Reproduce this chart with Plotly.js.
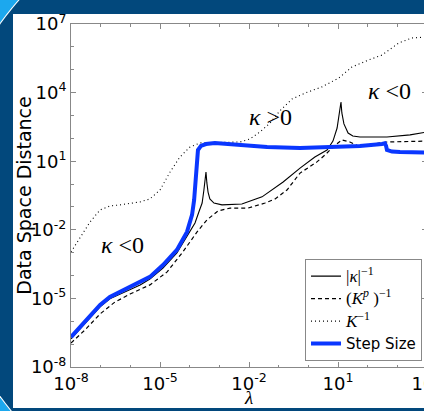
<!DOCTYPE html>
<html>
<head>
<meta charset="utf-8">
<script src="https://cdn.plot.ly/plotly-3.0.1.min.js"></script>
<style>
  html, body { margin:0; padding:0; width:424px; height:411px; overflow:hidden; background:#1ca8ee; position:relative; }
  #bgc { position:absolute; left:-60px; top:-107px; width:634px; height:634px; border-radius:50%; background:#02487c; box-shadow:0 0 0 1px #ffffff; }
  #panel { position:absolute; left:13px; top:14px; width:440px; height:394px; background:#fff; }
  #plot { position:absolute; left:13px; top:0px; width:440px; height:408px; }
</style>
</head>
<body>
<div id="bgc"></div>
<div id="panel"></div>
<div id="plot"></div>
<script>
// All values as log10 exponents (lambda, distance)
const solidLogX = [-8.00,-7.53,-7.02,-6.69,-6.35,-6.01,-5.67,-5.34,-4.90,-4.43,-4.09,-3.82,-3.69,-3.58,-3.52,-3.48,-3.45,-3.42,-3.38,-3.32,-3.18,-2.91,-2.24,-1.56,-1.12,-0.85,-0.28,0.22,0.63,0.83,0.97,1.03,1.10,1.13,1.20,1.34,1.50,1.74,2.65,3.43,4.00];
const solidLogY = [-6.77,-6.12,-5.37,-5.02,-4.81,-4.59,-4.41,-4.15,-3.67,-3.01,-2.27,-1.70,-1.22,-0.83,-0.26,0.18,0.53,0.05,-0.35,-0.65,-0.83,-0.91,-0.87,-0.56,-0.17,0.09,0.70,1.18,1.49,1.88,2.45,3.02,3.59,3.11,2.63,2.23,2.10,2.06,2.06,2.15,2.28];

const dashLogX = [-8.00,-7.53,-7.02,-6.52,-6.01,-5.34,-4.76,-4.23,-3.75,-3.42,-3.05,-2.64,-2.03,-1.46,-1.12,-0.72,-0.28,0.29,0.56,0.83,1.13,1.40,1.67,1.97,2.65,3.90,4.00];
const dashLogY = [-6.95,-6.38,-5.68,-5.16,-4.81,-4.41,-3.84,-2.97,-2.09,-1.57,-1.18,-1.05,-1.05,-0.83,-0.65,-0.26,0.48,0.97,1.27,1.62,1.93,1.84,1.67,1.71,1.84,1.88,1.88];

const dotLogX = [-8.00,-7.70,-7.36,-7.02,-6.69,-6.35,-5.67,-5.34,-5.00,-4.66,-4.33,-3.99,-3.65,-2.30,-1.97,-1.63,-1.29,-0.96,-0.55,-0.11,0.46,1.03,1.47,2.04,2.48,3.05,3.49,4.00];
const dotLogY = [-2.97,-2.36,-1.66,-1.13,-0.96,-0.91,-0.78,-0.65,-0.26,0.53,1.18,1.62,1.80,1.84,1.97,2.28,2.67,3.20,3.72,3.98,4.25,4.64,5.12,5.43,5.64,6.17,6.39,6.43];

const stepLogX = [-8.00,-7.53,-7.02,-6.69,-6.35,-6.01,-5.67,-5.34,-4.90,-4.43,-4.09,-3.92,-3.85,-3.82,-3.79,-3.75,-3.72,-3.62,-3.45,-3.15,-2.30,-1.39,-0.28,0.83,1.74,2.48,2.58,2.62,2.65,2.82,3.09,4.00];
const stepLogY = [-6.69,-6.03,-5.29,-4.94,-4.72,-4.50,-4.32,-4.06,-3.54,-2.88,-2.09,-1.35,-0.70,-0.04,0.62,1.14,1.49,1.67,1.75,1.80,1.71,1.62,1.58,1.62,1.67,1.75,1.78,1.67,1.49,1.42,1.40,1.38];

const seriesNames = [
  '|<i>κ</i>|<sup>−1</sup>',
  '(<i>K</i><sup><i>p</i></sup> )<sup>−1</sup>',
  '<i>K</i><sup>−1</sup>',
  'Step Size'
];
const regionLabels = ['<i>κ</i> &lt;0', '<i>κ</i> &gt;0', '<i>κ</i> &lt;0'];
const regionLabelLogX = [-6.28, -1.29, 2.72];
const regionLabelLogY = [-2.66, 2.93, 4.08];

const xTickExp = [-8, -5, -2, 1, 4];
const yTickExp = [-8, -5, -2, 1, 4, 7];
const xTickText = ['10<sup>-8</sup>', '10<sup>-5</sup>', '10<sup>-2</sup>', '10<sup>1</sup>', '10<sup>4</sup>'];
const yTickText = ['10<sup>-8</sup>', '10<sup>-5</sup>', '10<sup>-2</sup>', '10<sup>1</sup>', '10<sup>4</sup>', '10<sup>7</sup>'];

const pow10 = a => a.map(v => Math.pow(10, v));
const serif = 'Liberation Serif, DejaVu Serif, serif';
const sans = 'DejaVu Sans, sans-serif';
const legendName = (n, i) => i < 3 ? '<span style="font-family:' + serif + ';font-size:17px">' + n + '</span>' : n;

const traces = [
  {x: pow10(solidLogX), y: pow10(solidLogY), mode:'lines', name: legendName(seriesNames[0],0), line:{color:'#000', width:1.1}},
  {x: pow10(dashLogX), y: pow10(dashLogY), mode:'lines', name: legendName(seriesNames[1],1), line:{color:'#000', width:1.2, dash:'4px,3px'}},
  {x: pow10(dotLogX), y: pow10(dotLogY), mode:'lines', name: legendName(seriesNames[2],2), line:{color:'#000', width:1.1, dash:'1px,3px'}},
  {x: pow10(stepLogX), y: pow10(stepLogY), mode:'lines', name: seriesNames[3], line:{color:'#0a37ff', width:4}}
];

const axisCommon = {
  type:'log', showgrid:false, zeroline:false, showline:true, linecolor:'#888', linewidth:1, automargin:false,
  mirror:'ticks', ticks:'inside', ticklen:5, tickcolor:'#888', tickwidth:1, tickmode:'array',
  ticklabeloverflow:'allow',
  tickfont:{family:sans, size:18, color:'#000'},
  minor:{dtick:1, ticks:'inside', ticklen:2.5, tickcolor:'#888', tickwidth:1}
};

const layout = {
  width:440, height:408,
  margin:{l:58, r:26, t:24, b:41},
  paper_bgcolor:'rgba(0,0,0,0)', plot_bgcolor:'#fff',
  showlegend:true,
  xaxis: Object.assign({}, axisCommon, {
    range:[-8, 4], tickvals: pow10(xTickExp), ticktext: xTickText,
    title:{text:'<i>λ</i>', font:{family:serif, size:19, color:'#000'}, standoff:0}
  }),
  yaxis: Object.assign({}, axisCommon, {
    range:[-8, 7], tickvals: pow10(yTickExp), ticktext: yTickText,
    title:{text:'Data Space Distance', font:{family:sans, size:19, color:'#000'}, standoff:6}
  }),
  legend:{x:0.986, y:0.018, xanchor:'right', yanchor:'bottom', bgcolor:'#fff', bordercolor:'#888', borderwidth:1,
          font:{family:sans, size:15, color:'#000'}, itemwidth:30, tracegroupgap:0},
  annotations: regionLabels.map((t, i) => ({
    x: regionLabelLogX[i], y: regionLabelLogY[i], xref:'x', yref:'y', text:t, showarrow:false,
    font:{family:serif, size:24, color:'#000'}
  }))
};

Plotly.newPlot('plot', traces, layout, {staticPlot:true});
</script>
</body>
</html>
